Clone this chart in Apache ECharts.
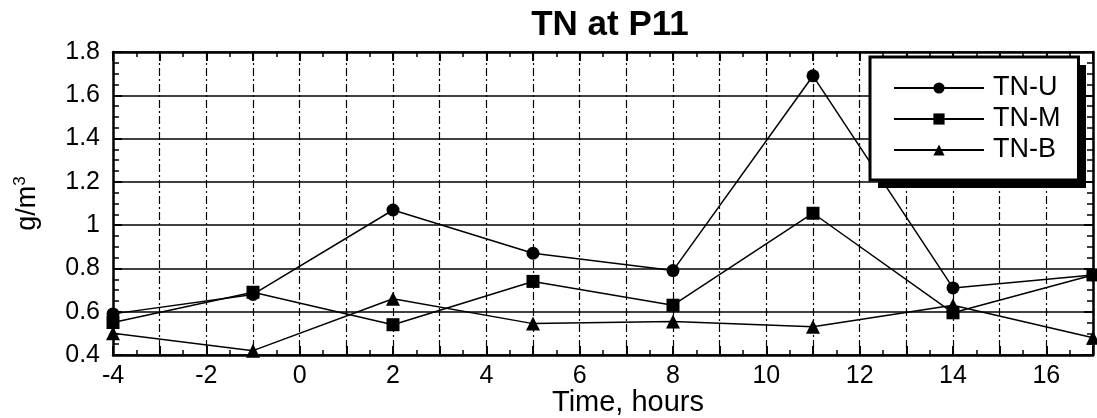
<!DOCTYPE html>
<html>
<head>
<meta charset="utf-8">
<script src="https://cdn.jsdelivr.net/npm/echarts@6/dist/echarts.min.js"></script>
<style>
  html, body { margin: 0; padding: 0; background: #fff; }
  #chart { width: 1097px; height: 418px; }
</style>
</head>
<body>
<div id="chart"></div>
<script>
// Sampling times (hours) and total nitrogen at three depths (g/m3)
const hours = [-4, -1, 2, 5, 8, 11, 14, 17];
const tnUpper = [0.59, 0.68, 1.07, 0.87, 0.79, 1.69, 0.71, 0.77];
const tnMiddle = [0.55, 0.69, 0.54, 0.74, 0.63, 1.055, 0.595, 0.77];
const tnBottom = [0.50, 0.42, 0.66, 0.545, 0.555, 0.53, 0.63, 0.48];
const seriesNames = ['TN-U', 'TN-M', 'TN-B'];
const seriesSymbols = ['circle', 'rect', 'triangle'];

const font = 'Liberation Sans, Arial, sans-serif';
const toPairs = vals => hours.map((h, i) => [h, vals[i]]);

const chart = echarts.init(document.getElementById('chart'), null, { renderer: 'canvas' });

const frameLine = { show: true, onZero: false, lineStyle: { color: '#000', width: 2.5 } };
const majorTick = { show: true, inside: true, length: 9, lineStyle: { color: '#000', width: 2 } };

const makeSeries = (name, vals, symbol) => ({
  name: name,
  type: 'line',
  data: toPairs(vals),
  symbol: symbol,
  symbolSize: symbol === 'triangle' ? 14 : 13,
  lineStyle: { color: '#000', width: 1.5 },
  itemStyle: { color: '#000' },
  clip: false,
  z: 5
});

// legend box geometry (used for its drop shadow as well)
const legendBox = { left: 870, top: 57, width: 208, height: 123 };

chart.setOption({
  animation: false,
  backgroundColor: '#fff',
  title: {
    text: 'TN at P11',
    left: 605,
    top: 3,
    textAlign: 'center',
    textStyle: { fontFamily: font, fontSize: 35, fontWeight: 'bold', color: '#000' }
  },
  grid: { left: 113, right: 4, top: 52, bottom: 63, outerBoundsMode: 'none', containLabel: false },
  graphic: [{
    type: 'rect',
    left: legendBox.left + 8,
    top: legendBox.top + 8,
    shape: { width: legendBox.width, height: legendBox.height },
    style: { fill: '#000' },
    z: 15
  }],
  legend: {
    orient: 'vertical',
    left: legendBox.left,
    top: legendBox.top,
    data: seriesNames,
    itemWidth: 90,
    itemHeight: 14,
    itemGap: 3,
    padding: [17, 18, 16, 23],
    backgroundColor: '#fff',
    borderColor: '#000',
    borderWidth: 3,
    textStyle: { fontFamily: font, fontSize: 27, color: '#000', lineHeight: 28, padding: [0, 0, 0, 4] },
    z: 20
  },
  xAxis: [
    {
      type: 'value',
      min: -4,
      max: 17,
      interval: 1,
      name: 'Time, hours',
      nameLocation: 'middle',
      nameGap: 33,
      nameMoveOverlap: false,
      nameTextStyle: { fontFamily: font, fontSize: 29, color: '#000', padding: [0, 0, 0, 50] },
      axisLine: frameLine,
      axisTick: majorTick,
      minorTick: { show: true, splitNumber: 2, length: 5, lineStyle: { color: '#000', width: 1.5 } },
      axisLabel: {
        fontFamily: font, fontSize: 25, color: '#000', margin: 9,
        formatter: v => (Math.round(v) % 2 === 0 ? String(v) : '')
      },
      splitLine: { show: true, lineStyle: { color: '#000', width: 1.2, type: [8, 3, 2, 3] } }
    },
    {
      type: 'value',
      position: 'top',
      min: -4,
      max: 17,
      interval: 1,
      axisLine: frameLine,
      axisTick: majorTick,
      minorTick: { show: true, splitNumber: 2, length: 5, lineStyle: { color: '#000', width: 1.5 } },
      axisLabel: { show: false },
      splitLine: { show: false }
    }
  ],
  yAxis: [
    {
      type: 'value',
      min: 0.4,
      max: 1.8,
      interval: 0.2,
      name: '{a|g/m}{b|3}',
      nameLocation: 'middle',
      nameRotate: 90,
      nameGap: 70,
      nameMoveOverlap: false,
      nameTextStyle: {
        rich: {
          a: { fontFamily: font, fontSize: 27, color: '#000' },
          b: { fontFamily: font, fontSize: 17, color: '#000', verticalAlign: 'top', padding: [0, 0, 14, 0] }
        }
      },
      axisLine: frameLine,
      axisTick: majorTick,
      minorTick: { show: true, splitNumber: 4, length: 6, lineStyle: { color: '#000', width: 1.5 } },
      axisLabel: { fontFamily: font, fontSize: 25, color: '#000', margin: 13 },
      splitLine: { show: true, lineStyle: { color: '#000', width: 1.5 } }
    },
    {
      type: 'value',
      position: 'right',
      min: 0.4,
      max: 1.8,
      interval: 0.2,
      axisLine: frameLine,
      axisTick: majorTick,
      minorTick: { show: true, splitNumber: 4, length: 6, lineStyle: { color: '#000', width: 1.5 } },
      axisLabel: { show: false },
      splitLine: { show: false }
    }
  ],
  series: [
    makeSeries(seriesNames[0], tnUpper, seriesSymbols[0]),
    makeSeries(seriesNames[1], tnMiddle, seriesSymbols[1]),
    makeSeries(seriesNames[2], tnBottom, seriesSymbols[2])
  ]
});
</script>
</body>
</html>
